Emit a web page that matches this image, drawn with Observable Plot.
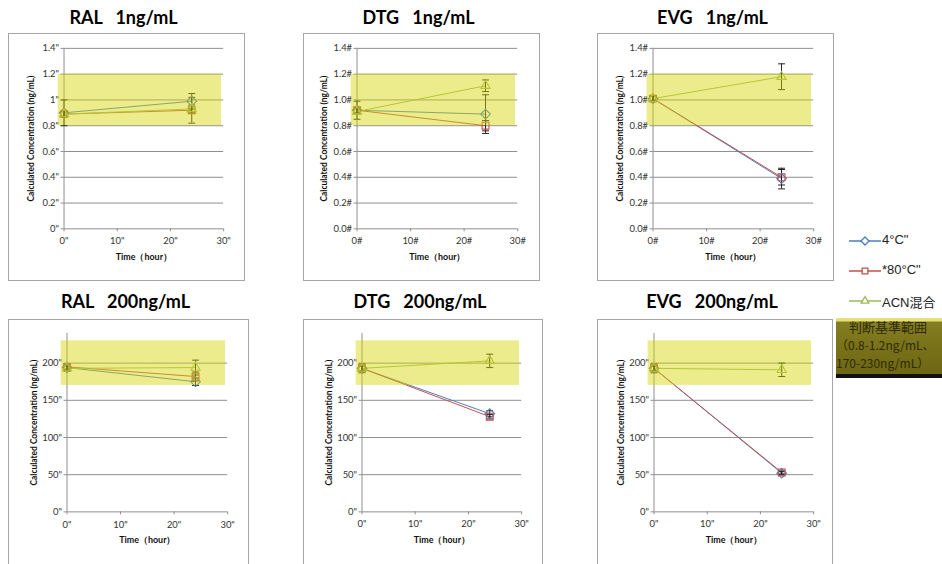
<!DOCTYPE html>
<html>
<head>
<meta charset="utf-8">
<script src="https://cdn.jsdelivr.net/npm/d3@7"></script>
<script src="https://cdn.jsdelivr.net/npm/@observablehq/plot@0.6"></script>
<style>
  html, body { margin: 0; padding: 0; background: #fff; overflow: hidden; }
  #root { position: relative; width: 942px; height: 564px; overflow: hidden; font-family: Lato, "Noto Sans", sans-serif; }
  .box { position: absolute; border: 1px solid #a6a6a6; box-sizing: border-box; background: #fff; }
  .box svg { position: absolute; left: -1px; top: -1px; }
  .title { position: absolute; font-family: Lato, sans-serif; font-weight: bold; font-size: 18px; white-space: pre; transform: translateX(-50%); color: #000; }
  .leg { position: absolute; font-family: "Liberation Sans", "Noto Sans CJK JP", sans-serif; font-size: 13px; color: #222; white-space: pre; }
  #bandLegend { position: absolute; left: 836px; top: 318px; width: 110px; height: 60px; box-sizing: border-box;
     background: linear-gradient(#e6e07a 0px, #e6e07a 3px, #857d22 4px, #7a7219 50%, #6e6614 100%);
     border-bottom: 4px solid #111; font-family: "Noto Sans CJK JP", sans-serif; font-size: 12px; color: #2e2a00; line-height: 18px; }
  #bandLegend div { white-space: pre; }
</style>
</head>
<body>
<div id="root"></div>
<script>
// ---- data ----
const panelTitles = ["RAL   1ng/mL", "DTG   1ng/mL", "EVG   1ng/mL", "RAL   200ng/mL", "DTG   200ng/mL", "EVG   200ng/mL"];
const hours = [0, 24];
const seriesNames = ["4°C\"", "*80°C\"", "ACN混合"];
const c4     = [[0.90, 0.99], [0.92, 0.89], [1.01, 0.39], [194, 175], [193, 132], [193, 52]];
const c4Err  = [[0.10, 0.06], [0.07, 0.15], [0.02, 0.08], [5, 5], [6, 4], [6, 2]];
const m80    = [[0.89, 0.92], [0.92, 0.80], [1.01, 0.40], [195, 182], [193, 128], [193, 53]];
const m80Err = [[0.02, 0.10], [0.02, 0.04], [0.02, 0.06], [3, 6], [3, 3], [3, 2]];
const acn    = [[0.89, 0.93], [0.91, 1.11], [1.01, 1.18], [193, 194], [193, 203], [193, 191]];
const acnErr = [[0.02, 0.03], [0.02, 0.045], [0.02, 0.10], [3, 10], [3, 9], [3, 9]];
const bandLow  = [0.8, 0.8, 0.8, 170, 170, 170];
const bandHigh = [1.2, 1.2, 1.2, 230, 230, 230];
const bandHours = [-1.1, 29.6];
const yTicksLow  = [0, 0.2, 0.4, 0.6, 0.8, 1.0, 1.2, 1.4];
const yLabelsA   = ['0"', '0.2"', '0.4"', '0.6"', '0.8"', '1"', '1.2"', '1.4"'];
const yLabelsB   = ['0.0#', '0.2#', '0.4#', '0.6#', '0.8#', '1.0#', '1.2#', '1.4#'];
const yTicksHigh = [0, 50, 100, 150, 200];
const yLabelsC   = ['0"', '50"', '100"', '150"', '200"'];
const yMaxLow = 1.4, yMaxHigh = 240;
const xTicks   = [0, 10, 20, 30];
const xLabelsA = ['0"', '10"', '20"', '30"'];
const xLabelsB = ['0#', '10#', '20#', '30#'];
const yAxisLabel = "Calculated Concentration (ng/mL)";
const xAxisLabel = "Time（hour）";

// ---- layout (not data) ----
const layout = [
  {left: 8,   top: 33,  w: 237, h: 248, ml: 56, mr: 20, mt: 15, mb: 51, titleY: 6},
  {left: 303, top: 33,  w: 237, h: 248, ml: 54, mr: 21, mt: 15, mb: 51, titleY: 6},
  {left: 597, top: 33,  w: 237, h: 248, ml: 56, mr: 19, mt: 15, mb: 51, titleY: 6},
  {left: 8,   top: 319, w: 241, h: 252, ml: 59, mr: 20, mt: 14, mb: 58, titleY: 290},
  {left: 303, top: 319, w: 240, h: 252, ml: 59, mr: 20, mt: 14, mb: 58, titleY: 290},
  {left: 597, top: 319, w: 236, h: 252, ml: 57, mr: 18, mt: 14, mb: 58, titleY: 290}
];
const colors = ["#4a7ebb", "#c0504d", "#9bbb59"];
const symbols = ["diamond2", "square2", "triangle2"];

const capSymbol = { draw(ctx, size) { const r = Math.sqrt(size / Math.PI); ctx.moveTo(-r, 0); ctx.lineTo(r, 0); } };

const root = document.getElementById("root");

panelTitles.forEach((title, i) => {
  const L = layout[i];
  const high = i >= 3;
  const yTicks = high ? yTicksHigh : yTicksLow;
  const yLabels = high ? yLabelsC : (i === 0 ? yLabelsA : yLabelsB);
  const xLabels = (i === 1 || i === 2) ? xLabelsB : xLabelsA;
  const yMax = high ? yMaxHigh : yMaxLow;
  const vals = [c4[i], m80[i], acn[i]];
  const errs = [c4Err[i], m80Err[i], acnErr[i]];
  const rows = [];
  vals.forEach((v, s) => hours.forEach((t, k) => rows.push({series: seriesNames[s], s, t, v: v[k], lo: v[k] - errs[s][k], hi: v[k] + errs[s][k]})));
  const band = [{x1: bandHours[0], x2: bandHours[1], y1: bandLow[i], y2: bandHigh[i]}];

  const t = document.createElement("div");
  t.className = "title";
  t.style.left = (L.left + L.w / 2 - 3) + "px";
  t.style.top = L.titleY + "px";
  t.textContent = title;
  root.appendChild(t);

  const box = document.createElement("div");
  box.className = "box";
  Object.assign(box.style, {left: L.left + "px", top: L.top + "px", width: L.w + "px", height: L.h + "px"});
  root.appendChild(box);

  const chart = Plot.plot({
    width: L.w, height: L.h,
    marginLeft: L.ml, marginRight: L.mr, marginTop: L.mt, marginBottom: L.mb,
    style: {fontFamily: "Lato, sans-serif", fontSize: "9.5px", background: "transparent", overflow: "visible"},
    x: {domain: [0, 30]},
    y: {domain: [0, yMax]},
    color: {domain: seriesNames, range: colors},
    symbol: {domain: seriesNames, range: symbols},
    marks: [
      Plot.gridY(yTicks.filter(d => d > 0), {stroke: "#8e8e8e", strokeOpacity: 1}),
      Plot.ruleX([0], {stroke: "#8e8e8e"}),
      Plot.ruleY([0], {stroke: "#8e8e8e"}),
      Plot.axisY({ticks: yTicks, tickFormat: (d) => yLabels[yTicks.indexOf(d)], tickSize: 3, tickPadding: 2, stroke: "#8e8e8e", fill: "#333", label: null}),
      Plot.axisX({ticks: xTicks, tickFormat: (d) => xLabels[xTicks.indexOf(d)], tickSize: 3, tickPadding: 6, stroke: "#8e8e8e", fill: "#333", label: null}),
      Plot.line(rows, {x: "t", y: "v", z: "series", stroke: "series", strokeWidth: 1}),
      Plot.ruleX(rows, {x: "t", y1: "lo", y2: "hi", stroke: "#222", strokeWidth: 1}),
      Plot.dot(rows, {x: "t", y: "lo", symbol: capSymbol, r: 3.5, stroke: "#222", strokeWidth: 1}),
      Plot.dot(rows, {x: "t", y: "hi", symbol: capSymbol, r: 3.5, stroke: "#222", strokeWidth: 1}),
      Plot.dot(rows, {x: "t", y: "v", symbol: "series", stroke: "series", r: 4.4, strokeWidth: 1.1, fill: "none"}),
      Plot.rect(band, {x1: "x1", x2: "x2", y1: "y1", y2: "y2", fill: "#d4d400", fillOpacity: 0.45}),
      Plot.text([yAxisLabel], {frameAnchor: "left", textAnchor: "middle", dx: -33, rotate: -90, fontSize: 8.5, fontWeight: "bold", fill: "#111"}),
      Plot.text([xAxisLabel], {frameAnchor: "bottom", dy: 31, fontSize: 9, fontWeight: "bold", fill: "#111"})
    ]
  });
  box.appendChild(chart);
});

// ---- legend ----
const legendY = [241, 271, 301];
seriesNames.forEach((name, s) => {
  const svgNS = "http://www.w3.org/2000/svg";
  const svg = document.createElementNS(svgNS, "svg");
  svg.setAttribute("width", 34); svg.setAttribute("height", 14);
  svg.style.position = "absolute"; svg.style.left = "848px"; svg.style.top = (legendY[s] - 7) + "px";
  const g = d3.select(svg);
  g.append("line").attr("x1", 1).attr("x2", 33).attr("y1", 7).attr("y2", 7).attr("stroke", colors[s]).attr("stroke-width", 1.5);
  const sym = [d3.symbolDiamond2, d3.symbolSquare2, d3.symbolTriangle2][s];
  g.append("path").attr("d", d3.symbol(sym, 42)()).attr("transform", "translate(17,7)").attr("fill", "white").attr("stroke", colors[s]).attr("stroke-width", 1.3);
  root.appendChild(svg);
  const lab = document.createElement("div");
  lab.className = "leg";
  lab.style.left = "882px"; lab.style.top = (legendY[s] - 9) + "px";
  lab.textContent = name;
  root.appendChild(lab);
});
const bl = document.createElement("div");
bl.id = "bandLegend";
bl.innerHTML = '<div style="padding-left:13px;font-size:13px">判断基準範囲</div><div style="padding-left:0px">（0.8-1.2ng/mL、</div><div style="padding-left:0px">170-230ng/mL）</div>';
root.appendChild(bl);
</script>
</body>
</html>
